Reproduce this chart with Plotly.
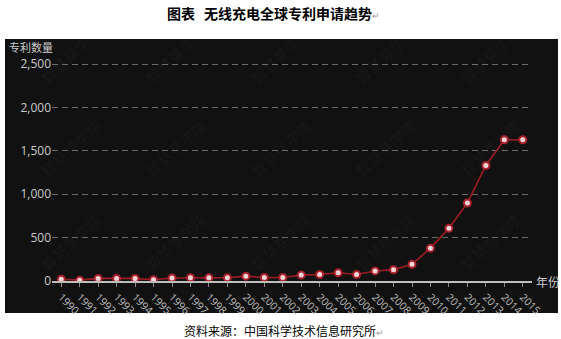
import plotly.graph_objects as go

years = list(range(1990, 2016))
counts = [20, 10, 30, 30, 30, 15, 35, 38, 38, 38, 56, 40, 40, 68, 75, 95, 75, 116,
          130, 192, 378, 607, 898, 1331, 1627, 1627]
y_ticks = [0, 500, 1000, 1500, 2000, 2500]
y_tick_labels = ["0", "500", "1,000", "1,500", "2,000", "2,500"]

title_label = "图表"
title_text = "无线充电全球专利申请趋势"
source_text = "资料来源：中国科学技术信息研究所"
y_title = "专利数量"
x_title = "年份"
watermark = "智慧芽学院"

W, H = 561, 339
L, R, T, B = 52, 29, 60, 58
pw, ph = W - L - R, H - T - B
y_top = 2500 * ph / ((H - B) - 64)

def px2x(px):
    return (px - L) / pw

def px2y(py):
    return (H - B - py) / ph

font_cjk = "Noto Sans CJK SC, Open Sans, sans-serif"

fig = go.Figure()
fig.add_trace(go.Scatter(
    x=years, y=counts, mode="lines+markers",
    line=dict(color="#9c1c26", width=1.6),
    marker=dict(size=7, color="#f2d4d6", line=dict(color="#a8222e", width=2)),
    hoverinfo="skip", showlegend=False,
))

shapes = [dict(type="rect", xref="paper", yref="paper", layer="below",
               x0=px2x(5), x1=px2x(558), y0=px2y(313), y1=px2y(39),
               fillcolor="#111111", line=dict(width=0))]

annotations = [
    dict(text=title_label, xref="paper", yref="paper", x=px2x(165), y=px2y(13),
         showarrow=False, xanchor="left", yanchor="middle",
         font=dict(family=font_cjk, size=14, color="#000000", weight="bold")),
    dict(text=title_text + "<span style='color:#999;font-size:9px;font-weight:normal'>↵</span>",
         xref="paper", yref="paper", x=px2x(202), y=px2y(13),
         showarrow=False, xanchor="left", yanchor="middle",
         font=dict(family=font_cjk, size=14, color="#000000", weight="bold")),
    dict(text=source_text + "<span style='color:#999;font-size:9px'>↵</span>",
         xref="paper", yref="paper", x=px2x(284), y=px2y(330),
         showarrow=False, xanchor="center", yanchor="middle",
         font=dict(family=font_cjk, size=12, color="#000000")),
    dict(text=y_title, xref="paper", yref="paper", x=px2x(7), y=px2y(47),
         showarrow=False, xanchor="left", yanchor="middle",
         font=dict(family=font_cjk, size=11, color="#c8c8c8")),
    dict(text=x_title, xref="paper", yref="paper", x=px2x(534), y=px2y(281),
         showarrow=False, xanchor="left", yanchor="middle",
         font=dict(family=font_cjk, size=12, color="#c8c8c8")),
]

for cy in [55, 148, 242]:
    for cx in [70, 175, 280, 385, 490]:
        annotations.append(dict(
            text=watermark, xref="paper", yref="paper", x=px2x(cx), y=px2y(cy),
            showarrow=False, textangle=-42, xanchor="center", yanchor="middle",
            font=dict(family=font_cjk, size=15, color="rgba(255,255,255,0.045)")))

fig.update_layout(
    width=W, height=H,
    margin=dict(l=L, r=R, t=T, b=B, pad=0),
    paper_bgcolor="#ffffff", plot_bgcolor="rgba(0,0,0,0)",
    font=dict(family=font_cjk),
    shapes=shapes, annotations=annotations,
    xaxis=dict(
        range=[1989.5, 2015.5], tickmode="array", tickvals=years,
        ticktext=[str(y) for y in years], tickangle=45,
        showgrid=False, zeroline=False,
        showline=True, linecolor="#bdbdbd", linewidth=2,
        ticks="outside", ticklen=4, tickcolor="#8a8a8a", tickwidth=1,
        tickfont=dict(family="Open Sans, sans-serif", size=10.5, color="#bdbdbd"),
    ),
    yaxis=dict(
        range=[0, y_top], tickmode="array", tickvals=y_ticks, ticktext=y_tick_labels,
        showgrid=True, gridcolor="#6a6a6a", gridwidth=1, griddash="6px,4px",
        zeroline=False, showline=False, ticks="",
        tickfont=dict(family="Open Sans, sans-serif", size=12, color="#c8c8c8"),
    ),
)

fig.write_html("out.html")
